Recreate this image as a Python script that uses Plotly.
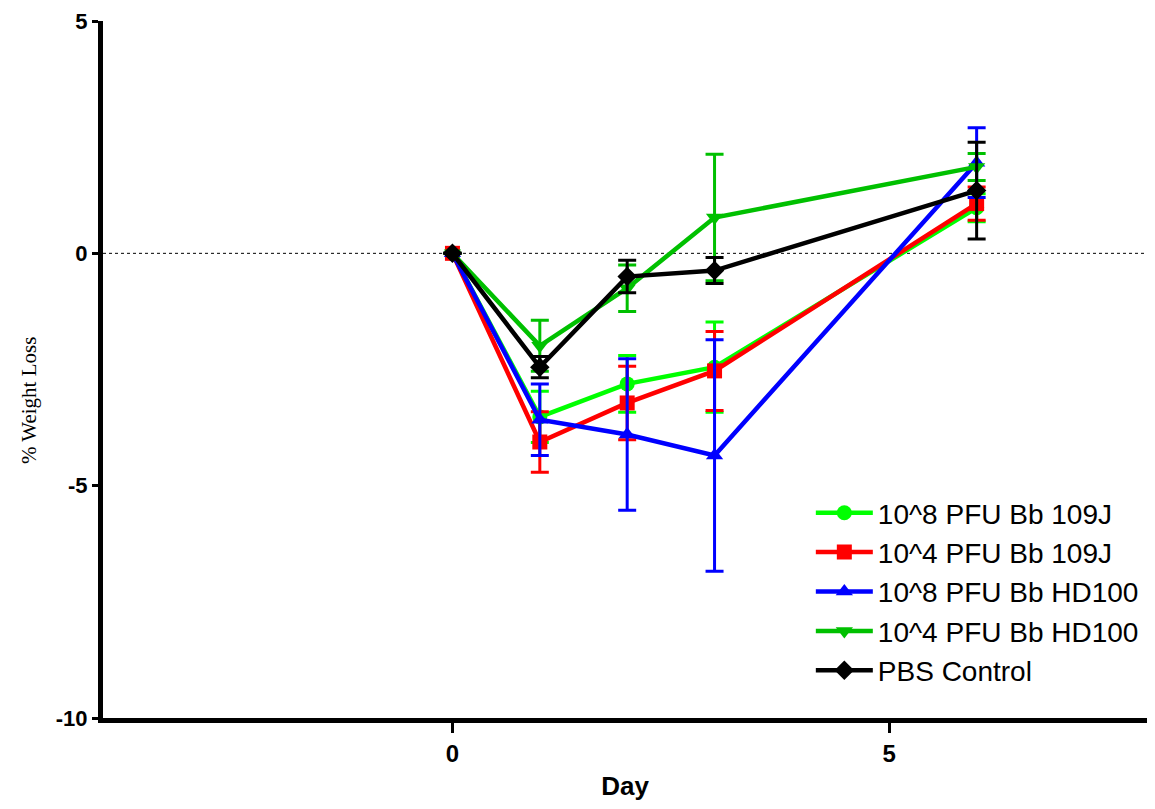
import plotly.graph_objects as go

days = [0, 1, 2, 3, 6]

series_names = [
    "10^8 PFU Bb 109J",
    "10^4 PFU Bb 109J",
    "10^8 PFU Bb HD100",
    "10^4 PFU Bb HD100",
    "PBS Control",
]

g8_109j = [0.0, -3.52, -2.81, -2.45, 0.98]
g8_109j_err = [0.0, 0.55, 0.61, 0.97, 0.30]

g4_109j = [0.0, -4.06, -3.22, -2.53, 1.07]
g4_109j_err = [0.0, 0.65, 0.79, 0.85, 0.36]

g8_hd100 = [0.0, -3.58, -3.90, -4.35, 1.95]
g8_hd100_err = [0.0, 0.77, 1.63, 2.49, 0.75]

g4_hd100 = [0.0, -1.99, -0.75, 0.77, 1.86]
g4_hd100_err = [0.0, 0.55, 0.50, 1.36, 0.29]

pbs = [0.0, -2.45, -0.50, -0.37, 1.35]
pbs_err = [0.0, 0.23, 0.35, 0.28, 1.04]

values = [g8_109j, g4_109j, g8_hd100, g4_hd100, pbs]
errors = [g8_109j_err, g4_109j_err, g8_hd100_err, g4_hd100_err, pbs_err]
colors = ["#00FF00", "#FF0000", "#0000FF", "#00C000", "#000000"]
symbols = ["circle", "square", "triangle-up", "triangle-down", "diamond"]

x_ticks = [0, 5]
y_ticks = [5, 0, -5, -10]

fig = go.Figure()

for name, v, e, c, s in zip(series_names, values, errors, colors, symbols):
    fig.add_trace(go.Scatter(
        x=days, y=v, name=name, mode="lines+markers",
        line=dict(color=c, width=4.5),
        marker=dict(color=c, symbol=s, size=15),
        error_y=dict(type="data", array=e, visible=True, color=c,
                     thickness=3, width=9),
    ))

fig.add_shape(type="line", xref="paper", yref="y", x0=0, x1=1, y0=0, y1=0,
              line=dict(color="black", width=1, dash="dot"), layer="below")

fig.add_annotation(
    text="% Weight Loss", textangle=-90, showarrow=False,
    xref="paper", yref="paper", x=-0.071, y=0.456,
    xanchor="center", yanchor="middle",
    font=dict(family="Times New Roman, Liberation Serif, serif", size=21, color="black"),
)

fig.update_layout(
    width=1139, height=793,
    paper_bgcolor="white", plot_bgcolor="white",
    margin=dict(l=95, r=0, t=13, b=83),
    xaxis=dict(
        range=[-4, 7.95], tickvals=x_ticks, ticktext=["<b>%d</b>" % t for t in x_ticks],
        showgrid=False, zeroline=False, showline=True, linecolor="black",
        linewidth=5, ticks="outside", ticklen=10, tickwidth=3, tickcolor="black",
        tickfont=dict(family="Arial, Liberation Sans, sans-serif", size=24, color="black"),
        title=dict(text="<b>Day</b>", font=dict(family="Arial, Liberation Sans, sans-serif", size=26, color="black"), standoff=14),
    ),
    yaxis=dict(
        range=[-10, 5], tickvals=y_ticks, ticktext=["<b>%d</b>" % t for t in y_ticks],
        showgrid=False, zeroline=False, showline=True, linecolor="black",
        linewidth=5, ticks="outside", ticklen=6, tickwidth=3, tickcolor="black",
        tickfont=dict(family="Arial, Liberation Sans, sans-serif", size=22, color="black"),
    ),
    legend=dict(
        x=0.678, y=0.33, xanchor="left", yanchor="top",
        font=dict(family="Arial, Liberation Sans, sans-serif", size=28, color="black"),
        bgcolor="rgba(0,0,0,0)", tracegroupgap=0, itemwidth=57,
    ),
    showlegend=True,
)

fig.write_html("out.html")
